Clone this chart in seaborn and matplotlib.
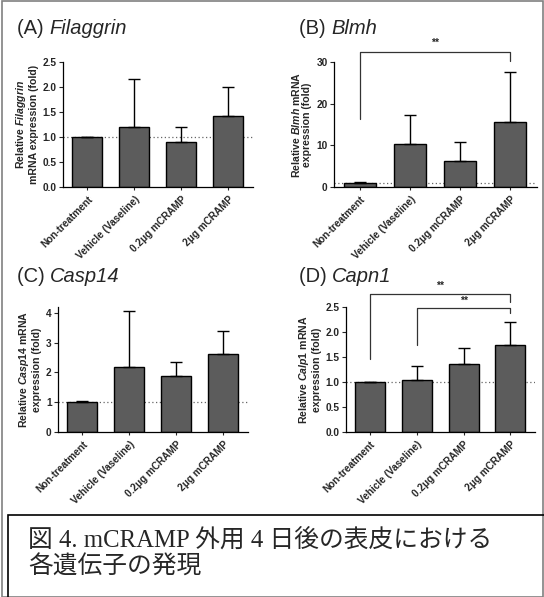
import numpy as np
import pandas as pd
import matplotlib
matplotlib.use("Agg")
import matplotlib.pyplot as plt
import seaborn as sns
from matplotlib.patches import Rectangle

# groups shared by every panel
groups = ["Non-treatment", "Vehicle (Vaseline)", "0.2\u03bcg mCRAMP", "2\u03bcg mCRAMP"]

# (A) Filaggrin
fil_mean = [1.0, 1.21, 0.91, 1.43]
fil_sd = [0.0, 0.95, 0.29, 0.57]
# (B) Blmh
blmh_mean = [1.0, 10.4, 6.2, 15.7]
blmh_sd = [0.1, 6.8, 4.6, 11.9]
# (C) Casp14
casp_mean = [1.0, 2.17, 1.87, 2.62]
casp_sd = [0.03, 1.88, 0.48, 0.78]
# (D) Capn1
capn_mean = [1.0, 1.04, 1.37, 1.75]
capn_sd = [0.0, 0.29, 0.31, 0.45]

sns.set_style("ticks")
plt.rcParams["font.family"] = ["Liberation Sans", "DejaVu Sans"]
plt.rcParams["mathtext.fontset"] = "custom"
plt.rcParams["mathtext.it"] = "Liberation Sans:italic:bold"
plt.rcParams["mathtext.rm"] = "Liberation Sans:bold"

fig = plt.figure(figsize=(5.44, 5.97), dpi=100)
W, H = 544.0, 597.0


def add_ax(left, right, top, bottom):
    return fig.add_axes([left / W, 1 - bottom / H, (right - left) / W, (bottom - top) / H])


panels = [
    dict(box=(63, 253, 62, 187), mean=fil_mean, sd=fil_sd, ylim=(0, 2.5),
         yticks=[0, 0.5, 1.0, 1.5, 2.0, 2.5], fmt="{:.1f}",
         ylabel="Relative $\\mathit{Filaggrin}$\nmRNA expression (fold)",
         title=("(A) ", "Filaggrin"), tpos=(17, 28)),
    dict(box=(334, 537, 62, 187), mean=blmh_mean, sd=blmh_sd, ylim=(0, 30),
         yticks=[0, 10, 20, 30], fmt="{:d}",
         ylabel="Relative $\\mathit{Blmh}$ mRNA\nexpression (fold)",
         title=("(B) ", "Blmh"), tpos=(299, 28)),
    dict(box=(58, 248, 307, 432), mean=casp_mean, sd=casp_sd, ylim=(0, 4.2),
         yticks=[0, 1, 2, 3, 4], fmt="{:d}",
         ylabel="Relative $\\mathit{Casp14}$ mRNA\nexpression (fold)",
         title=("(C) ", "Casp14"), tpos=(17, 277)),
    dict(box=(346, 535, 307, 432), mean=capn_mean, sd=capn_sd, ylim=(0, 2.5),
         yticks=[0, 0.5, 1.0, 1.5, 2.0, 2.5], fmt="{:.1f}",
         ylabel="Relative $\\mathit{Calp1}$ mRNA\nexpression (fold)",
         title=("(D) ", "Capn1"), tpos=(299, 277)),
]

axes = []
for p in panels:
    ax = add_ax(*p["box"])
    df = pd.DataFrame({"group": groups, "value": p["mean"]})
    sns.barplot(data=df, x="group", y="value", color="#5c5c5c", saturation=1,
                edgecolor="black", linewidth=1.0, width=0.64, errorbar=None, ax=ax)
    ax.errorbar(np.arange(len(groups)), p["mean"],
                yerr=[np.zeros(len(groups)), p["sd"]], fmt="none",
                ecolor="black", elinewidth=1.0, capsize=4.5, capthick=1.0, zorder=1)
    ax.axhline(1.0, color="#666666", linestyle=(0, (1, 2)), linewidth=0.9, zorder=0)
    ax.set_xlim(-0.52, 3.53)
    ax.set_ylim(*p["ylim"])
    ax.set_yticks(p["yticks"])
    ax.set_yticklabels([p["fmt"].format(int(v) if p["fmt"] == "{:d}" else v)
                        for v in p["yticks"]], fontsize=7.3, fontweight="bold")
    ax.set_xticks(range(len(groups)))
    ax.set_xticklabels(groups, rotation=45, ha="right", rotation_mode="anchor",
                       fontsize=7.2, fontweight="bold")
    ax.tick_params(axis="both", length=3, width=0.8, pad=1.5)
    ax.tick_params(axis="x", length=2.5, pad=2.5)
    ax.set_xlabel("")
    ax.set_ylabel(p["ylabel"], fontsize=7.6, fontweight="bold", linespacing=1.1, labelpad=3)
    for s in ["left", "bottom"]:
        ax.spines[s].set_linewidth(0.9)
        ax.spines[s].set_color("black")
    sns.despine(ax=ax)
    tx, ty = p["tpos"]
    t = fig.text(tx / W, 1 - ty / H, p["title"][0], fontsize=14.5, va="center", ha="left")
    ax.annotate(p["title"][1], xy=(1, 0.5), xycoords=t, va="center", ha="left",
                fontsize=14.5, style="italic")
    axes.append(ax)


def bracket(ax, x1, x2, y_left, y_top, y_right, label, label_y):
    ax.plot([x1, x1, x2, x2], [y_left, y_top, y_top, y_right], color="#333333",
            linewidth=0.9, clip_on=False)
    ax.text((x1 + x2) / 2, label_y, label, ha="center", va="center", fontsize=7.5,
            fontweight="bold", clip_on=False)


bracket(axes[1], 0, 3, 16.3, 32.4, 30.3, "**", 34.6)
bracket(axes[3], 0, 3, 1.46, 2.76, 2.6, "**", 2.93)
bracket(axes[3], 1, 3, 1.74, 2.48, 2.38, "**", 2.62)

# outer grey frame and caption box
fig.patches.append(Rectangle((0.004, 0.0), 0.994, 0.998, transform=fig.transFigure,
                             fill=False, edgecolor="#808080", linewidth=1.2))
fig.patches.append(Rectangle((8 / W, -0.01), 1.0, 1 - 515 / H + 0.01,
                             transform=fig.transFigure, fill=False,
                             edgecolor="black", linewidth=1.2))

cap_font = ["Liberation Serif", "Noto Sans CJK JP"]
fig.text(28 / W, 1 - 540 / H, "図 4. mCRAMP 外用 4 日後の表皮における",
         fontsize=17.8, family=cap_font, va="center", ha="left")
fig.text(28 / W, 1 - 567 / H, "各遺伝子の発現",
         fontsize=17.8, family=cap_font, va="center", ha="left")

fig.savefig("out.png", dpi=100)
